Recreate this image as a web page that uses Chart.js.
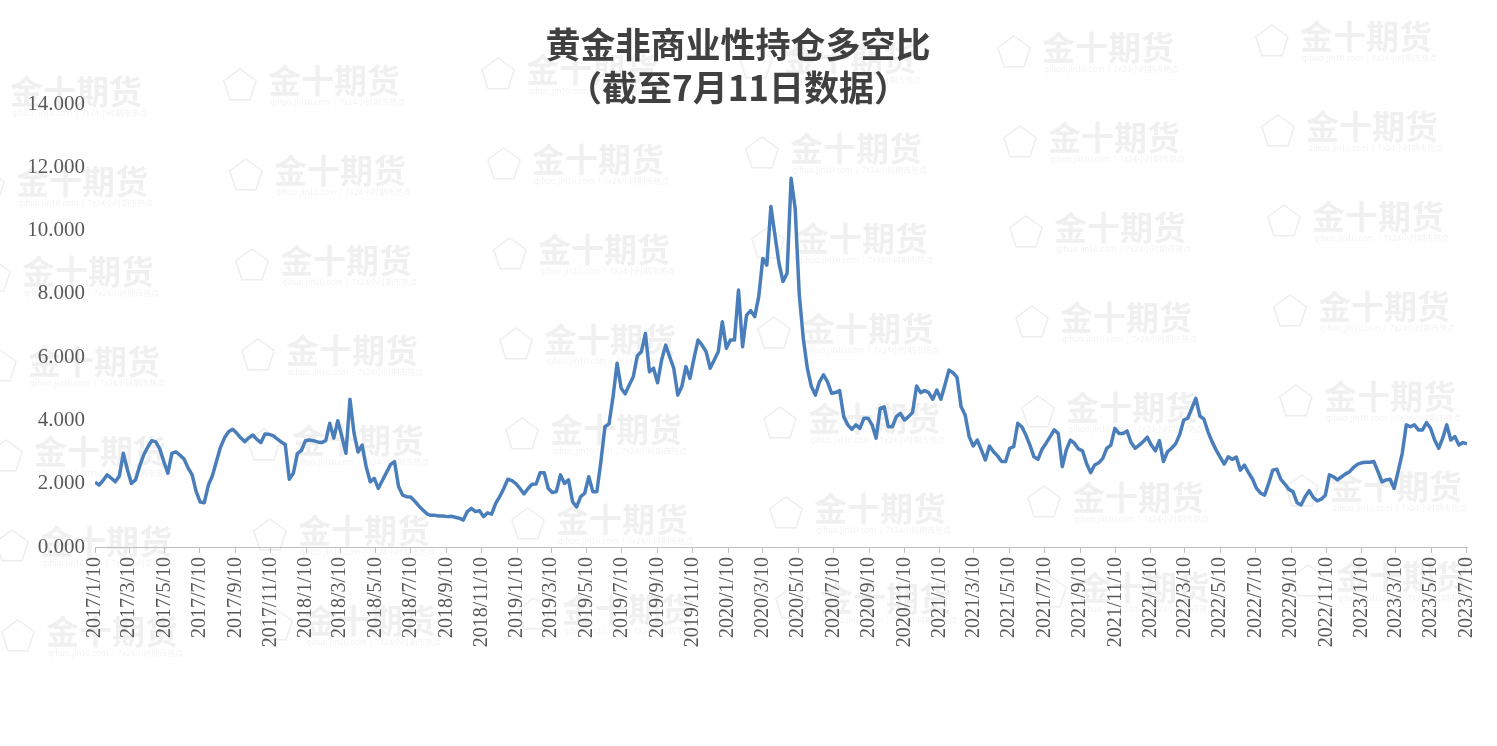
<!DOCTYPE html>
<html>
<head>
<meta charset="utf-8">
<script src="https://cdn.jsdelivr.net/npm/chart.js@4.4.0/dist/chart.umd.min.js"></script>
<style>
  html, body { margin: 0; padding: 0; background: #fff; }
  #wrap { width: 1497px; height: 746px; position: relative; }
</style>
</head>
<body>
<div id="wrap"><canvas id="chart"></canvas></div>
<script>
const titleLines = ['黄金非商业性持仓多空比', '（截至7月11日数据）']
const startDate = '2017/1/10' // weekly CFTC report dates, one per Tuesday

// long/short ratio, one value per week from 2017/1/10 to 2023/7/11
const ratios = [
  2.05, 1.96, 2.10, 2.28, 2.18, 2.06, 2.24, 2.96, 2.45, 2.01,
  2.12, 2.54, 2.90, 3.15, 3.36, 3.32, 3.10, 2.70, 2.33, 2.96,
  3.01, 2.90, 2.78, 2.50, 2.28, 1.75, 1.42, 1.40, 1.95, 2.25,
  2.70, 3.15, 3.45, 3.64, 3.72, 3.60, 3.45, 3.33, 3.45, 3.54,
  3.40, 3.30, 3.57, 3.56, 3.52, 3.42, 3.32, 3.24, 2.14, 2.33,
  2.95, 3.05, 3.36, 3.38, 3.36, 3.32, 3.30, 3.36, 3.91, 3.44,
  3.99, 3.49, 2.96, 4.67, 3.60, 3.00, 3.22, 2.54, 2.06, 2.17,
  1.85, 2.10, 2.35, 2.60, 2.70, 1.91, 1.64, 1.59, 1.58, 1.45,
  1.30, 1.17, 1.05, 1.00, 1.00, 0.98, 0.98, 0.96, 0.97, 0.94,
  0.91, 0.85, 1.12, 1.22, 1.12, 1.15, 0.96, 1.08, 1.04, 1.38,
  1.59, 1.85, 2.14, 2.10, 2.00, 1.85, 1.68, 1.85, 1.98, 1.99,
  2.35, 2.35, 1.85, 1.72, 1.75, 2.28, 2.01, 2.12, 1.43, 1.27,
  1.59, 1.70, 2.22, 1.75, 1.75, 2.70, 3.80, 3.89, 4.75, 5.81,
  5.02, 4.84, 5.12, 5.38, 6.04, 6.17, 6.75, 5.54, 5.65, 5.19,
  5.91, 6.38, 6.01, 5.65, 4.80, 5.07, 5.70, 5.33, 5.96, 6.54,
  6.38, 6.17, 5.65, 5.91, 6.17, 7.12, 6.28, 6.54, 6.54, 8.12,
  6.33, 7.33, 7.47, 7.28, 7.91, 9.12, 8.91, 10.76, 9.86, 8.97,
  8.39, 8.65, 11.65, 10.70, 8.00, 6.60, 5.65, 5.07, 4.80, 5.22,
  5.44, 5.22, 4.86, 4.88, 4.94, 4.12, 3.86, 3.72, 3.86, 3.75,
  4.07, 4.07, 3.86, 3.44, 4.38, 4.43, 3.80, 3.80, 4.12, 4.22,
  4.01, 4.12, 4.25, 5.09, 4.88, 4.94, 4.88, 4.67, 4.96, 4.67,
  5.12, 5.59, 5.51, 5.36, 4.43, 4.17, 3.49, 3.19, 3.38, 3.07,
  2.75, 3.19, 3.01, 2.88, 2.70, 2.70, 3.12, 3.17, 3.91, 3.80,
  3.54, 3.22, 2.85, 2.77, 3.09, 3.28, 3.49, 3.70, 3.59, 2.54,
  3.07, 3.38, 3.28, 3.10, 3.04, 2.64, 2.35, 2.59, 2.66, 2.80,
  3.12, 3.22, 3.75, 3.59, 3.59, 3.67, 3.30, 3.12, 3.22, 3.33,
  3.47, 3.22, 3.04, 3.36, 2.70, 3.01, 3.12, 3.26, 3.55, 4.01,
  4.07, 4.38, 4.70, 4.14, 4.04, 3.64, 3.33, 3.07, 2.84, 2.62,
  2.85, 2.77, 2.84, 2.43, 2.59, 2.35, 2.15, 1.85, 1.70, 1.64,
  2.01, 2.43, 2.46, 2.14, 1.99, 1.82, 1.75, 1.40, 1.33, 1.59,
  1.78, 1.57, 1.46, 1.51, 1.64, 2.28, 2.22, 2.12, 2.22, 2.31,
  2.38, 2.52, 2.62, 2.66, 2.68, 2.68, 2.70, 2.38, 2.06, 2.12,
  2.14, 1.85, 2.40, 2.96, 3.86, 3.80, 3.86, 3.70, 3.70, 3.93,
  3.75, 3.38, 3.12, 3.44, 3.86, 3.38, 3.49, 3.22, 3.30, 3.26,
]

const tickLabels = [
  '2017/1/10', '2017/3/10', '2017/5/10', '2017/7/10', '2017/9/10', '2017/11/10',
  '2018/1/10', '2018/3/10', '2018/5/10', '2018/7/10', '2018/9/10', '2018/11/10',
  '2019/1/10', '2019/3/10', '2019/5/10', '2019/7/10', '2019/9/10', '2019/11/10',
  '2020/1/10', '2020/3/10', '2020/5/10', '2020/7/10', '2020/9/10', '2020/11/10',
  '2021/1/10', '2021/3/10', '2021/5/10', '2021/7/10', '2021/9/10', '2021/11/10',
  '2022/1/10', '2022/3/10', '2022/5/10', '2022/7/10', '2022/9/10', '2022/11/10',
  '2023/1/10', '2023/3/10', '2023/5/10', '2023/7/10',
]
const yMax = 14
const yStep = 2

const serif = '"Liberation Serif", "Times New Roman", serif'

function dayNumber(s) {
  const [y, m, d] = s.split('/').map(Number)
  return Date.UTC(y, m - 1, d) / 86400000
}
const day0 = dayNumber(startDate)
const points = ratios.map((v, i) => ({ x: i * 7, y: v }))
const tickDays = tickLabels.map(s => dayNumber(s) - day0)

// faint "金十期货" watermarks behind the chart
const watermark = {
  id: 'watermark',
  beforeDraw(chart) {
    const ctx = chart.ctx
    ctx.save()
    for (let r = 0; r < 7; r++) {
      for (let c = 0; c < 6; c++) {
        const x = 10 + c * 258 + r * 6
        const y = 95 + r * 90 - c * 11
        ctx.strokeStyle = 'rgba(0,0,0,0.07)'
        ctx.lineWidth = 1.5
        ctx.beginPath()
        for (let k = 0; k < 5; k++) {
          const a = -Math.PI / 2 + k * 2 * Math.PI / 5
          const px = x - 28 + 17 * Math.cos(a)
          const py = y + 2 + 17 * Math.sin(a)
          if (k === 0) ctx.moveTo(px, py)
          else ctx.lineTo(px, py)
        }
        ctx.closePath()
        ctx.stroke()
        ctx.fillStyle = 'rgba(0,0,0,0.06)'
        ctx.font = 'bold 33px "Noto Sans CJK SC"'
        ctx.textBaseline = 'middle'
        ctx.textAlign = 'left'
        ctx.fillText('金十期货', x, y - 4)
        ctx.font = '8px "Noto Sans CJK SC"'
        ctx.fillText('qihuo.jin10.com  |  7x24小时期市热点', x + 2, y + 18)
      }
    }
    ctx.restore()
  },
}

const chartTitle = {
  id: 'chartTitle',
  afterDraw(chart) {
    const ctx = chart.ctx
    ctx.save()
    ctx.fillStyle = '#404040'
    ctx.font = 'bold 35px "Noto Sans CJK SC"'
    ctx.textAlign = 'center'
    ctx.textBaseline = 'middle'
    ctx.fillText(titleLines[0], 738, 45)
    ctx.fillText(titleLines[1], 738, 88)
    ctx.restore()
  },
}

new Chart(document.getElementById('chart'), {
  type: 'line',
  data: {
    datasets: [{
      data: points,
      borderColor: '#4a7ebb',
      borderWidth: 3.5,
      pointRadius: 0,
      tension: 0,
      borderJoinStyle: 'round',
    }],
  },
  options: {
    responsive: true,
    maintainAspectRatio: false,
    animation: false,
    layout: { padding: { top: 104, left: 8, right: 30, bottom: 0 } },
    plugins: {
      legend: { display: false },
      tooltip: { enabled: false },
    },
    scales: {
      x: {
        type: 'linear',
        min: 0,
        max: points[points.length - 1].x,
        afterBuildTicks(scale) {
          scale.ticks = tickDays.map(v => ({ value: v }))
        },
        afterFit(scale) {
          scale.height = 199
        },
        grid: {
          display: true,
          drawOnChartArea: false,
          drawTicks: true,
          tickLength: 6,
          color: '#bfbfbf',
        },
        border: { display: true, color: '#bfbfbf', width: 1 },
        ticks: {
          autoSkip: false,
          minRotation: 90,
          maxRotation: 90,
          padding: 4,
          color: '#595959',
          font: { family: serif, size: 20 },
          callback: (value, index) => tickLabels[index],
        },
      },
      y: {
        min: 0,
        max: yMax,
        afterFit(scale) {
          scale.width = 87
        },
        grid: { display: false, drawTicks: false },
        border: { display: false },
        ticks: {
          stepSize: yStep,
          padding: 10,
          color: '#595959',
          font: { family: serif, size: 21 },
          callback: v => v.toFixed(3),
        },
      },
    },
  },
  plugins: [watermark, chartTitle],
})
</script>
</body>
</html>
